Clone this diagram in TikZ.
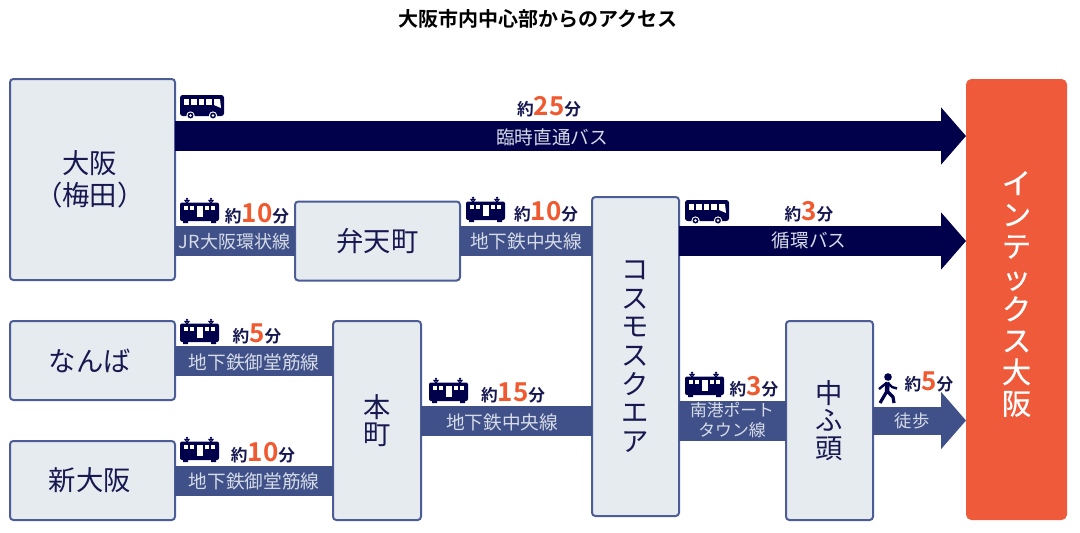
\documentclass[tikz,border=0pt]{standalone}
\usepackage{fontspec}
\setmainfont{Noto Sans CJK JP}
\newfontfamily\jpbold{Noto Sans CJK JP Bold}
\newfontfamily\jpmed[FakeBold=0.5]{Noto Sans CJK JP}
\usetikzlibrary{arrows.meta}
\definecolor{navy}{HTML}{00004B}
\definecolor{inktext}{HTML}{16184F}
\definecolor{barblue}{HTML}{3F5188}
\definecolor{boxfill}{HTML}{E6EBF0}
\definecolor{boxline}{HTML}{4C5C96}
\definecolor{intexor}{HTML}{EE5A3A}
\definecolor{mintext}{HTML}{F05A30}
\definecolor{barlabel}{HTML}{D6DBE7}
\newcommand{\mins}[1]{{\fontsize{12.5}{14}\selectfont\jpbold 約}{\fontsize{19.5}{18}\selectfont\jpbold\textcolor{mintext}{#1}}{\fontsize{12.5}{14}\selectfont\jpbold 分}}
\tikzset{
  x=0.75pt,y=-0.75pt,
  stationbox/.style={draw=boxline,fill=boxfill,line width=1.5pt,rounded corners=2.5pt,outer sep=0pt,inner sep=0pt,text=inktext,align=center,font=\fontsize{20.5}{20.5}\selectfont},
  linkbar/.style={draw=barblue,line width=22.5pt},
  darkarrow/.style={draw=navy,line width=22.5pt,-{Triangle[width=42pt,length=18.75pt]}},
  bluearrow/.style={draw=barblue,line width=21pt,-{Triangle[width=42pt,length=18.75pt]}},
  barlabeltext/.style={text=barlabel,font=\fontsize{14}{16}\selectfont,inner sep=0pt,align=center},
  timelabel/.style={text=inktext,inner sep=0pt},
  busicon/.pic={
    \fill[navy,rounded corners=2pt] (0,0) rectangle (44,21);
    \foreach \wx in {3.5,11,18.5,26}{\fill[white] (\wx,4) rectangle +(5.5,5.5);}
    \fill[white] (34,4) -- (40,4) -- (41,13) -- (34,10) -- cycle;
    \fill[navy,draw=white,line width=0.7pt] (10.5,20.5) circle (3.6) (33,20.5) circle (3.6);
    \fill[white] (10.5,20.5) circle (1.3) (33,20.5) circle (1.3);
  },
  trainicon/.pic={
    \draw[navy,line width=0.8pt] (7,6) -- (5,3.5) -- (9,3.5) -- cycle (31,6) -- (29,3.5) -- (33,3.5) -- cycle;
    \fill[navy] (7,1.8) circle (1.3) (31,1.8) circle (1.3);
    \fill[navy,rounded corners=1.5pt] (0,5.5) rectangle (39,24);
    \fill[navy] (3,24) rectangle (8,26) (31,24) rectangle (36,26);
    \foreach \wx in {4,10,25,31}{\fill[white] (\wx,9) rectangle +(3.8,3.8);}
    \fill[white] (16.5,9) rectangle (22.5,20);
  },
  walkicon/.pic={
    \fill[navy] (11,4) circle (3.8);
    \draw[navy,line width=3.4pt,line join=round] (10.5,9.5) -- (10,18);
    \draw[navy,line width=1.8pt,line join=round] (10,9.5) -- (2,16) (10.5,9.5) -- (15,14) -- (20,15.5);
    \draw[navy,line width=2.4pt,line join=round] (10,18) -- (3,30) (10,18) -- (16,24) -- (17,30);
  },
}
\begin{document}
\begin{tikzpicture}
\useasboundingbox (0,0) rectangle (1080,532);
\node[font=\fontsize{15}{18}\selectfont\jpbold,text=black,inner sep=0pt] (title) at (537.5,19) {大阪市内中心部からのアクセス};

\coordinate (toparrowstart) at (175,136);
\node[stationbox,minimum width=123.75pt,minimum height=150.75pt] (osaka) at (92.5,179.5) {\hspace*{-4pt}大阪\\[4pt]\hspace*{-4pt}（梅田）};
\node[stationbox,minimum width=123.75pt,minimum height=59.25pt] (namba) at (92.5,360.5) {\hspace*{-4pt}なんば};
\node[stationbox,minimum width=123.75pt,minimum height=59.25pt] (shinosaka) at (92.5,480.5) {\hspace*{-4pt}新大阪};
\node[stationbox,minimum width=123.75pt,minimum height=59.25pt] (benten) at (377.5,241) {弁天町};
\node[stationbox,minimum width=66pt,minimum height=149.25pt] (honmachi) at (377,420.5) {本\\町};
\node[stationbox,minimum width=65.25pt,minimum height=239.25pt,font=\fontsize{20.5}{21.5}\selectfont] (cosmo) at (635.5,356.5) {コ\\ス\\モ\\ス\\ク\\エ\\ア};
\node[stationbox,minimum width=65.25pt,minimum height=149.25pt] (chufuto) at (829.5,420.5) {中\\ふ\\頭};
\coordinate (intexcentre) at (1016.5,299.5);
\node[fill=intexor,rounded corners=4pt,outer sep=0pt,inner sep=0pt,minimum width=75.75pt,minimum height=330.75pt] (intex) at (intexcentre) {};
\node[text=white,align=center,inner sep=0pt,font=\fontsize{22}{23.6}\selectfont\jpmed] (intextext) at (1016.5,294) {イ\\ン\\テ\\ッ\\ク\\ス\\大\\阪};

\draw[darkarrow] (toparrowstart) -- (toparrowstart -| intex.west);
\draw[linkbar] (osaka.east |- benten) -- (benten.west);
\draw[linkbar] (benten.east) -- (cosmo.west |- benten);
\draw[darkarrow] (cosmo.east |- benten) -- (intex.west |- benten);
\draw[linkbar] (namba.east) -- (honmachi.west |- namba);
\draw[linkbar] (shinosaka.east) -- (honmachi.west |- shinosaka);
\draw[linkbar] (honmachi.east) -- (cosmo.west |- honmachi);
\draw[barblue,line width=30pt] (cosmo.east |- chufuto) -- (chufuto.west);
\draw[bluearrow] (chufuto.east) -- (intex.west |- chufuto);

\node[barlabeltext] (lb1) at (552,137) {臨時直通バス};
\node[barlabeltext,font=\fontsize{13.5}{16}\selectfont] (lb2) at (234.5,242) {JR大阪環状線};
\node[barlabeltext] (lb3) at (526,241) {地下鉄中央線};
\node[barlabeltext] (lb4) at (809,240) {循環バス};
\node[barlabeltext] (lb5) at (254,362) {地下鉄御堂筋線};
\node[barlabeltext] (lb6) at (254,481) {地下鉄御堂筋線};
\node[barlabeltext] (lb7) at (502,422) {地下鉄中央線};
\node[barlabeltext,font=\fontsize{12.6}{15}\selectfont] (lb8) at (732,420) {南港ポート\\タウン線};
\node[barlabeltext,font=\fontsize{13}{15}\selectfont] (lb9) at (912,421) {徒歩};

\node[timelabel] (t1) at (549,107) {\mins{25}};
\node[timelabel] (t2) at (257,214) {\mins{10}};
\node[timelabel] (t3) at (546,212) {\mins{10}};
\node[timelabel] (t4) at (809,212) {\mins{3}};
\node[timelabel] (t5) at (257,334) {\mins{5}};
\node[timelabel] (t6) at (263,453) {\mins{10}};
\node[timelabel] (t7) at (513,393) {\mins{15}};
\node[timelabel] (t8) at (754,387) {\mins{3}};
\node[timelabel] (t9) at (929,382) {\mins{5}};

\pic at (180,95) {busicon};
\pic at (685,200) {busicon};
\pic at (180,197) {trainicon};
\pic at (466,196) {trainicon};
\pic at (180,318) {trainicon};
\pic at (180,436) {trainicon};
\pic at (429,377) {trainicon};
\pic at (685,371) {trainicon};
\pic at (877,373) {walkicon};
\end{tikzpicture}
\end{document}
